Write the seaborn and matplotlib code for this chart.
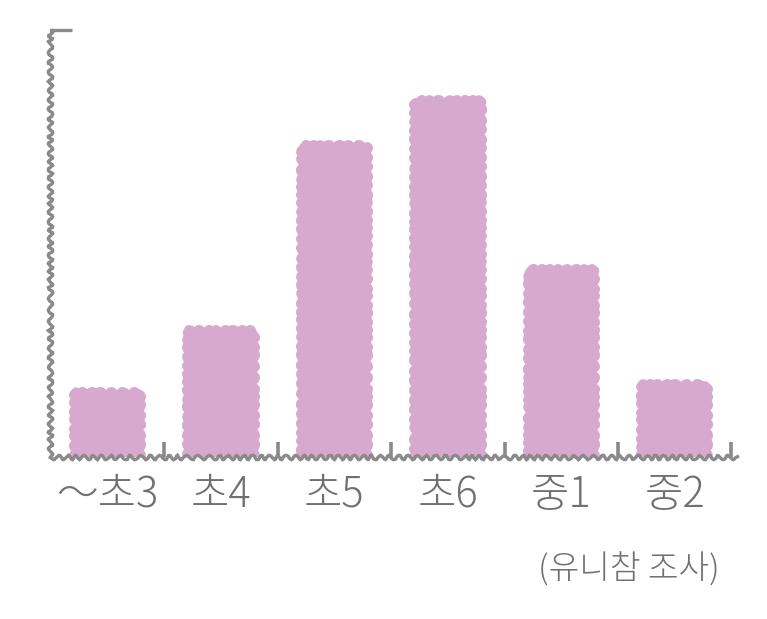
import matplotlib
matplotlib.use("Agg")
import matplotlib.pyplot as plt
from matplotlib import font_manager
import seaborn as sns
import pandas as pd

categories = ["～초3", "초4", "초5", "초6", "중1", "중2"]
values = [7.4, 14.6, 36.3, 41.5, 21.8, 8.3]
source_note = "(유니참 조사)"

bar_color = "#D8A9CE"
axis_color = "#8A8A8A"
text_color = "#707070"

plt.xkcd(scale=2.2, length=10, randomness=2)
plt.rcParams["path.effects"] = []
plt.rcParams["font.family"] = ["Noto Sans CJK KR", "DejaVu Sans"]

# look for a light sans CJK face if one is installed
light_font = None
cands = [f for f in font_manager.findSystemFonts()
         if "cjk" in f.lower() and "sans" in f.lower() and "mono" not in f.lower()]
for key in ["-light", "demilight"]:
    for f in cands:
        n = f.lower()
        if key in n:
            if key == "-light" and "demilight" in n:
                continue
            light_font = f
            break
    if light_font:
        break

def fprops(size):
    if light_font:
        return font_manager.FontProperties(fname=light_font, size=size)
    return font_manager.FontProperties(family=["Noto Sans CJK KR", "DejaVu Sans"], size=size)

df = pd.DataFrame({"cat": categories, "val": values})

fig = plt.figure(figsize=(7.67, 6.19), dpi=100)
ax = fig.add_axes([0.065, 0.262, 0.896, 0.69])

sns.barplot(data=df, x="cat", y="val", color=bar_color, saturation=1,
            width=0.56, edgecolor=bar_color, linewidth=7, ax=ax)
for p in ax.patches:
    p.set_joinstyle("round")
    p.set_capstyle("round")

ax.set_xlim(-0.51, 5.55)
ax.set_ylim(0, 50)
ax.set_xlabel("")
ax.set_ylabel("")
for s in ["top", "right"]:
    ax.spines[s].set_visible(False)
for s in ["left", "bottom"]:
    ax.spines[s].set_color(axis_color)
    ax.spines[s].set_linewidth(2.4)
    ax.spines[s].set_zorder(3)

ax.set_yticks([50])
ax.set_yticklabels([])
ax.tick_params(axis="y", direction="in", length=16, width=2.4, color=axis_color)
ax.set_xticks(range(len(categories)))
ax.set_xticklabels(categories, color=text_color, fontproperties=fprops(30))
ax.tick_params(axis="x", which="major", length=0, pad=12)
ax.set_xticks([i + 0.5 for i in range(len(categories))], minor=True)
ax.tick_params(axis="x", which="minor", direction="in", length=11, width=2.6, color=axis_color)

fig.text(0.939, 0.078, source_note, ha="right", va="center",
         color=text_color, fontproperties=fprops(24))

fig.savefig("out.png", dpi=100)
